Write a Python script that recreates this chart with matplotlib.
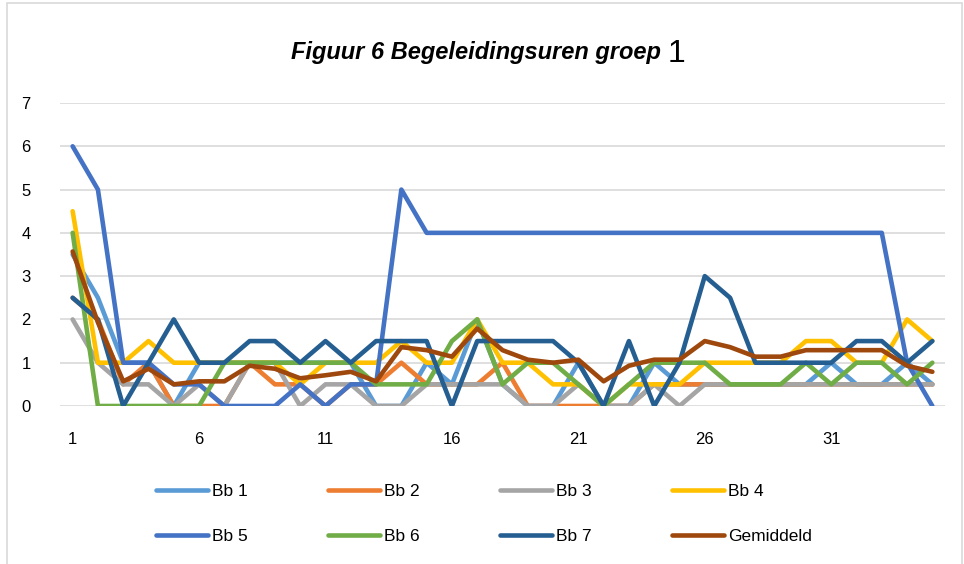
import numpy as np
import matplotlib
matplotlib.use("Agg")
import matplotlib.pyplot as plt
from matplotlib.patches import Rectangle

plt.rcParams['font.family'] = ['Liberation Sans', 'DejaVu Sans']

# ---- data ----
dagen = list(range(1, 36))
bb1 = [3.5, 2.5, 1, 1, 0, 1, 1, 1, 1, 1, 1, 1, 0, 0, 1, 0.5, 2, 0.5, 0, 0, 1, 0, 0, 1, 0.5,
       0.5, 0.5, 0.5, 0.5, 0.5, 1, 0.5, 0.5, 1, 0.5]
bb2 = [2.5, 2, 0.5, 1, 0, 0, 0, 1, 0.5, 0.5, 0, 0.5, 0.5, 1, 0.5, 0.5, 0.5, 1, 0, 0, 0, 0, 0, 0.5, 0.5,
       0.5, 0.5, 0.5, 0.5, 0.5, 0.5, 0.5, 0.5, 0.5, 0.5]
bb3 = [2, 1, 0.5, 0.5, 0, 0.5, 0, 1, 1, 0, 0.5, 0.5, 0, 0, 0.5, 0.5, 0.5, 0.5, 0, 0, 0.5, 0, 0, 0.5, 0,
       0.5, 0.5, 0.5, 0.5, 0.5, 0.5, 0.5, 0.5, 0.5, 0.5]
bb4 = [4.5, 1, 1, 1.5, 1, 1, 1, 1, 1, 0.5, 1, 1, 1, 1.5, 1, 1, 2, 1, 1, 0.5, 0.5, 0, 0.5, 0.5, 0.5,
       1, 1, 1, 1, 1.5, 1.5, 1, 1, 2, 1.5]
bb5 = [6, 5, 1, 1, 0.5, 0.5, 0, 0, 0, 0.5, 0, 0.5, 0.5, 5, 4, 4, 4, 4, 4, 4, 4, 4, 4, 4, 4,
       4, 4, 4, 4, 4, 4, 4, 4, 1, 0]
bb6 = [4, 0, 0, 0, 0, 0, 1, 1, 1, 1, 1, 1, 0.5, 0.5, 0.5, 1.5, 2, 0.5, 1, 1, 0.5, 0, 0.5, 1, 1,
       1, 0.5, 0.5, 0.5, 1, 0.5, 1, 1, 0.5, 1]
bb7 = [2.5, 2, 0, 1, 2, 1, 1, 1.5, 1.5, 1, 1.5, 1, 1.5, 1.5, 1.5, 0, 1.5, 1.5, 1.5, 1.5, 1, 0, 1.5, 0, 1,
       3, 2.5, 1, 1, 1, 1, 1.5, 1.5, 1, 1.5]
gemiddeld = [3.57, 1.93, 0.57, 0.86, 0.5, 0.57, 0.57, 0.93, 0.86, 0.64, 0.71, 0.79, 0.57, 1.36, 1.29,
             1.14, 1.79, 1.29, 1.07, 1.0, 1.07, 0.57, 0.93, 1.07, 1.07, 1.5, 1.36, 1.14, 1.14, 1.29,
             1.29, 1.29, 1.29, 0.93, 0.79]

series = [("Bb 1", bb1, "#5B9BD5"), ("Bb 2", bb2, "#ED7D31"), ("Bb 3", bb3, "#A5A5A5"),
          ("Bb 4", bb4, "#FFC000"), ("Bb 5", bb5, "#4472C4"), ("Bb 6", bb6, "#70AD47"),
          ("Bb 7", bb7, "#255E91"), ("Gemiddeld", gemiddeld, "#9E480E")]

# ---- figure ----
fig = plt.figure(figsize=(9.64, 5.64), dpi=100)
ax = fig.add_axes([60/964, 1-406/564, (945-60)/964, (406-103)/564])

lines = []
for lab, vals, col in series:
    ln, = ax.plot(dagen, vals, color=col, lw=3.3, label=lab,
                  solid_joinstyle="round", solid_capstyle="round", zorder=3)
    lines.append(ln)

ax.set_xlim(0.5, 35.5)
ax.set_ylim(0, 7)
ax.set_yticks(range(0, 8))
ax.set_xticks(dagen[::5])
ax.grid(axis="y", color="#D9D9D9", lw=1.2, zorder=0)
for s in ax.spines.values():
    s.set_visible(False)
ax.tick_params(length=0, labelsize=12, colors="#000000")
ax.tick_params(axis="x", pad=19)
ax.tick_params(axis="y", pad=21)

# titel: vet cursief + grote "1"
t1 = fig.text(0.4975, 1-53/564, "Figuur 6 Begeleidingsuren groep ", ha="center", va="center",
              fontsize=17, fontweight="bold", fontstyle="italic")
fig.canvas.draw()
ax.annotate("1", xy=(1, 0.45), xycoords=t1, va="center", ha="left", fontsize=23)

# legenda (rij per rij, zoals Excel)
order = [0, 4, 1, 5, 2, 6, 3, 7]
leg = fig.legend([lines[i] for i in order], [series[i][0] for i in order],
                 loc="center", ncol=4, frameon=False, fontsize=12.5,
                 bbox_to_anchor=(484/964, 1-514/564), handlelength=3.0,
                 handletextpad=0.25, columnspacing=4.6, labelspacing=1.75)

# kader rond de grafiek
fig.patches.append(Rectangle((7/964, -0.05), (962-7)/964, 1.05-3/564, transform=fig.transFigure,
                             fill=False, edgecolor="#D9D9D9", lw=1.2))

fig.savefig("out.png", dpi=100)
